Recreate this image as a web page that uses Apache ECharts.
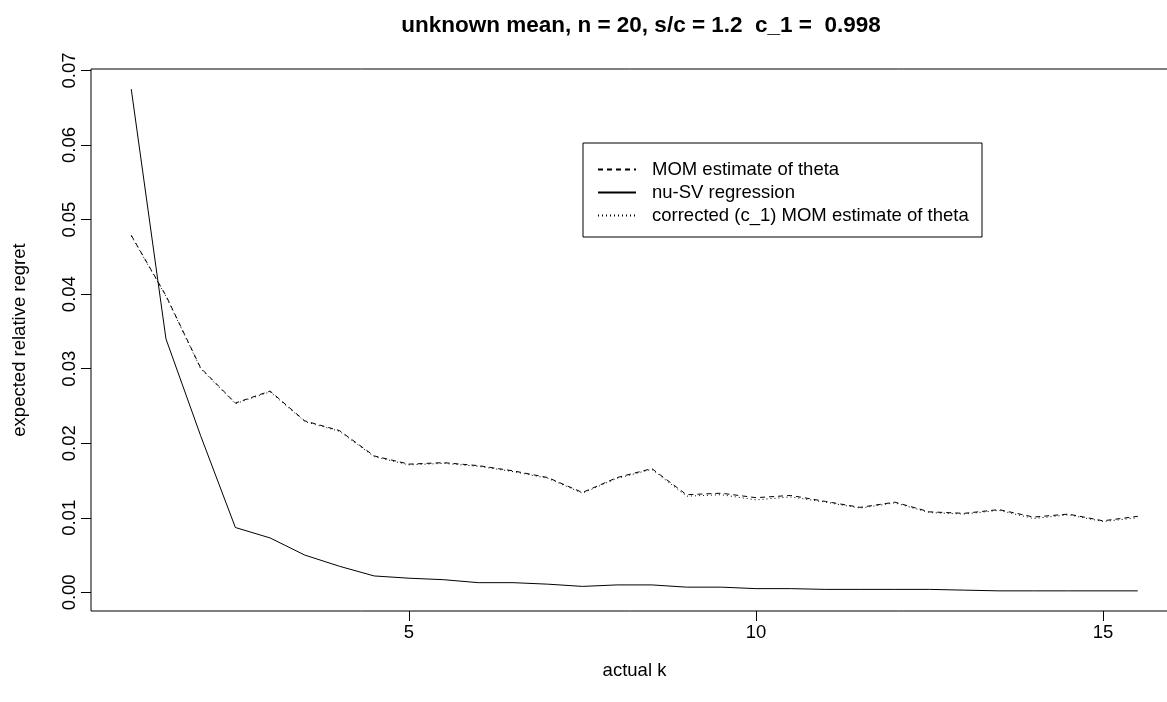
<!DOCTYPE html>
<html>
<head>
<meta charset="utf-8">
<script src="https://cdn.jsdelivr.net/npm/echarts@6/dist/echarts.min.js"></script>
<style>
  html, body { margin: 0; padding: 0; background: #fff; }
  #chart { width: 1167px; height: 702px; }
</style>
</head>
<body>
<div id="chart"></div>
<script>
// actual k
const kValues = [1, 1.5, 2, 2.5, 3, 3.5, 4, 4.5, 5, 5.5, 6, 6.5, 7, 7.5, 8, 8.5,
  9, 9.5, 10, 10.5, 11, 11.5, 12, 12.5, 13, 13.5, 14, 14.5, 15, 15.5]

// expected relative regret
const momTheta = [0.0479, 0.0398, 0.0301, 0.0254, 0.0270, 0.0230, 0.0217, 0.0183,
  0.0172, 0.0174, 0.0170, 0.0163, 0.0154, 0.0134, 0.0154, 0.0166,
  0.0131, 0.0133, 0.0127, 0.0130, 0.0122, 0.0114, 0.0121, 0.0108,
  0.0106, 0.0111, 0.0101, 0.0105, 0.0096, 0.0102]
const nuSV = [0.0675, 0.0340, 0.0210, 0.0087, 0.0073, 0.0050, 0.0035, 0.0022,
  0.0019, 0.0017, 0.0013, 0.0013, 0.0011, 0.0008, 0.0010, 0.0010,
  0.0007, 0.0007, 0.0005, 0.0005, 0.0004, 0.0004, 0.0004, 0.0004,
  0.0003, 0.0002, 0.0002, 0.0002, 0.0002, 0.0002]
const correctedMom = [0.0478, 0.0397, 0.0300, 0.0253, 0.0269, 0.0229, 0.0216, 0.0182,
  0.0171, 0.0173, 0.0169, 0.0162, 0.0153, 0.0133, 0.0153, 0.0165,
  0.0129, 0.0131, 0.0124, 0.0128, 0.0121, 0.0113, 0.0120, 0.0107,
  0.0105, 0.0110, 0.0099, 0.0104, 0.0095, 0.0100]

const xTicks = [5, 10, 15]
const yTickLabels = ['0.00', '0.01', '0.02', '0.03', '0.04', '0.05', '0.06', '0.07']

const seriesNames = ['MOM estimate of theta', 'nu-SV regression', 'corrected (c_1) MOM estimate of theta']

const FONT = "'Liberation Sans', Arial, sans-serif"

const pairs = (ys) => kValues.map((k, i) => [k, ys[i]])

const chart = echarts.init(document.getElementById('chart'))

let option = {
  animation: false,
  backgroundColor: '#fff',
  title: {
    text: 'unknown mean, n = 20, s/c = 1.2  c_1 =  0.998',
    left: 636,
    top: 9,
    textAlign: 'center',
    textStyle: {
      fontFamily: FONT,
      fontSize: 22.5,
      fontWeight: 'bold',
      color: '#000'
    }
  },
  grid: {
    left: 91,
    top: 69,
    width: 1087,
    height: 542,
    show: true,
    borderColor: '#000',
    borderWidth: 1,
    containLabel: false,
    outerBoundsMode: 'none'
  },
  legend: {
    orient: 'vertical',
    left: 597,
    top: 160,
    itemWidth: 38,
    itemHeight: 14,
    itemGap: 4,
    padding: 0,
    selectedMode: false,
    data: seriesNames,
    itemStyle: {color: 'rgba(0,0,0,0)', borderWidth: 0, opacity: 0},
    textStyle: {
      fontFamily: FONT,
      fontSize: 18.5,
      color: '#000',
      padding: [0, 0, 0, 11]
    }
  },
  graphic: [
    {
      type: 'rect',
      shape: {x: 583, y: 143, width: 399, height: 94},
      style: {fill: 'none', stroke: '#000', lineWidth: 1}
    }
  ],
  xAxis: {
    type: 'value',
    min: 0.42,
    max: 16.08,
    name: 'actual k',
    nameLocation: 'middle',
    nameGap: 50,
    nameTextStyle: {fontFamily: FONT, fontSize: 18.5, color: '#000'},
    axisLine: {show: false, onZero: false},
    axisTick: {show: false},
    axisLabel: {
      customValues: xTicks,
      margin: 12,
      fontFamily: FONT,
      fontSize: 18.5,
      color: '#000'
    },
    splitLine: {show: false}
  },
  yAxis: {
    type: 'value',
    min: -0.0025,
    max: 0.0702,
    name: 'expected relative regret',
    nameLocation: 'middle',
    nameRotate: 90,
    nameGap: 62,
    nameTextStyle: {fontFamily: FONT, fontSize: 18.5, color: '#000'},
    axisLine: {show: false, onZero: false},
    axisTick: {
      show: true,
      inside: false,
      length: 10,
      customValues: yTickLabels.map(Number),
      lineStyle: {color: '#000', width: 1}
    },
    axisLabel: {
      customValues: yTickLabels.map(Number),
      rotate: 90,
      margin: 12,
      fontFamily: FONT,
      fontSize: 18.5,
      color: '#000',
      formatter: v => v.toFixed(2)
    },
    splitLine: {show: false}
  },
  series: [
    {
      name: seriesNames[0],
      type: 'line',
      data: pairs(momTheta),
      symbol: 'none',
      lineStyle: {color: '#000', width: 1, type: [5, 4]},
      itemStyle: {color: '#000'}
    },
    {
      name: seriesNames[1],
      type: 'line',
      data: pairs(nuSV),
      symbol: 'none',
      lineStyle: {color: '#000', width: 1, type: 'solid'},
      itemStyle: {color: '#000'}
    },
    {
      name: seriesNames[2],
      type: 'line',
      data: pairs(correctedMom),
      symbol: 'none',
      lineStyle: {color: '#000', width: 1, type: [1, 3]},
      itemStyle: {color: '#000'}
    }
  ]
}

chart.setOption(option)

// x tick marks below the box, placed through the x scale
const yBottom = chart.convertToPixel({yAxisIndex: 0}, -0.0025)
const tickMarks = xTicks.map(v => {
  const x = Math.round(chart.convertToPixel({xAxisIndex: 0}, v)) + 0.5
  return {
    type: 'line',
    shape: {x1: x, y1: yBottom, x2: x, y2: yBottom + 10},
    style: {stroke: '#000', lineWidth: 1}
  }
})
chart.setOption({graphic: option.graphic.concat(tickMarks)})
</script>
</body>
</html>
